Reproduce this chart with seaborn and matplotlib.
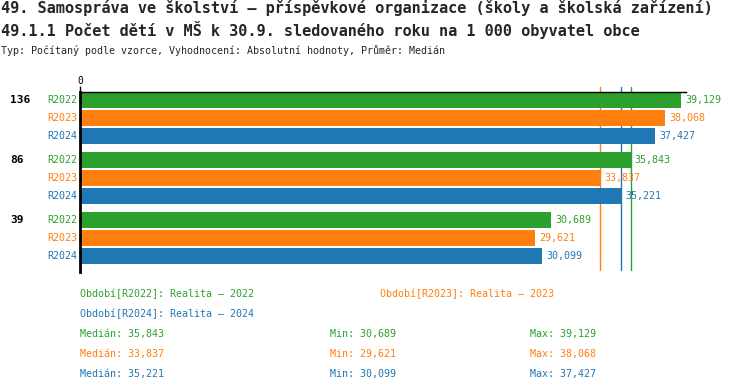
import numpy as np
import pandas as pd
import matplotlib
matplotlib.use("Agg")
import matplotlib.pyplot as plt
import matplotlib.transforms as mtransforms
import seaborn as sns

# data
categories = ["136", "86", "39"]
periods = ["R2022", "R2023", "R2024"]
period_names = ["Realita – 2022", "Realita – 2023", "Realita – 2024"]
r2022 = [39.129, 35.843, 30.689]
r2023 = [38.068, 33.837, 29.621]
r2024 = [37.427, 35.221, 30.099]
colors = ["#2ca02c", "#ff7f0e", "#1f77b4"]

title1 = "49. Samospráva ve školství – příspěvkové organizace (školy a školská zařízení)"
title2 = "49.1.1 Počet dětí v MŠ k 30.9. sledovaného roku na 1 000 obyvatel obce"
subtitle = "Typ: Počítaný podle vzorce, Vyhodnocení: Absolutní hodnoty, Průměr: Medián"

series = [r2022, r2023, r2024]
df = pd.DataFrame({
    "obec": categories * 3,
    "obdobi": np.repeat(periods, len(categories)),
    "hodnota": r2022 + r2023 + r2024,
})


def cz(v):
    return f"{v:.3f}".replace(".", ",")


sns.set_style("white")
plt.rcParams["font.family"] = ["DejaVu Sans Mono", "DejaVu Sans"]

W, H = 750, 392
fig = plt.figure(figsize=(W / 100, H / 100), dpi=100)
ax = fig.add_axes([80 / W, 1 - 272 / H, 606 / W, 180 / H])

sns.barplot(data=df, x="hodnota", y="obec", hue="obdobi", order=categories,
            hue_order=periods, palette=colors, orient="h", width=0.9, gap=0.11,
            saturation=1, legend=False, linewidth=0, edgecolor="none", ax=ax)

ax.set_xlim(0, 39.45)
ax.set_ylim(2.563, -0.437)
ax.set_xlabel("")
ax.set_ylabel("")
ax.set_yticks([])
ax.xaxis.tick_top()
ax.set_xticks([0])
ax.set_xticklabels(["0"])
ax.tick_params(axis="x", top=True, length=4, width=1, pad=0, labelsize=7, colors="black")
for s in ["right", "bottom"]:
    ax.spines[s].set_visible(False)
ax.spines["top"].set_linewidth(1)
ax.spines["top"].set_color("black")
ax.spines["left"].set_linewidth(2)
ax.spines["left"].set_color("black")

lab_tr = mtransforms.blended_transform_factory(fig.transFigure, ax.transData)
for j, cont in enumerate(ax.containers):
    ax.bar_label(cont, labels=[cz(v) for v in series[j]], padding=3,
                 color=colors[j], fontsize=7.2)
    for i, p in enumerate(cont.patches):
        p.set_zorder(2)
        yc = p.get_y() + p.get_height() / 2
        fig.text(77 / W, yc, periods[j], transform=lab_tr, ha="right",
                 va="center", color=colors[j], fontsize=7.2)
        if j == 0:
            fig.text(10 / W, yc, categories[i], transform=lab_tr, ha="left",
                     va="center", color="black", fontsize=8, fontweight="bold")

# median lines behind the bars
for j, vals in enumerate(series):
    ax.axvline(np.median(vals), ymin=0.01, ymax=1.028, color=colors[j],
               lw=1, clip_on=False, zorder=1)

fig.text(1 / W, 1 - 8 / H, title1, fontsize=11, fontweight="bold", va="center", ha="left")
fig.text(1 / W, 1 - 30 / H, title2, fontsize=11, fontweight="bold", va="center", ha="left")
fig.text(1 / W, 1 - 51 / H, subtitle, fontsize=7.2, va="center", ha="left")

legend_pos = [(80, 294), (380, 294), (80, 314)]
for j, (x, y) in enumerate(legend_pos):
    fig.text(x / W, 1 - y / H, f"Období[{periods[j]}]: {period_names[j]}",
             color=colors[j], fontsize=7.2, va="center", ha="left")

for j, vals in enumerate(series):
    y = 1 - (334 + 20 * j) / H
    fig.text(80 / W, y, f"Medián: {cz(np.median(vals))}", color=colors[j], fontsize=7.2, va="center")
    fig.text(330 / W, y, f"Min: {cz(min(vals))}", color=colors[j], fontsize=7.2, va="center")
    fig.text(530 / W, y, f"Max: {cz(max(vals))}", color=colors[j], fontsize=7.2, va="center")

fig.savefig("out.png", dpi=100)
